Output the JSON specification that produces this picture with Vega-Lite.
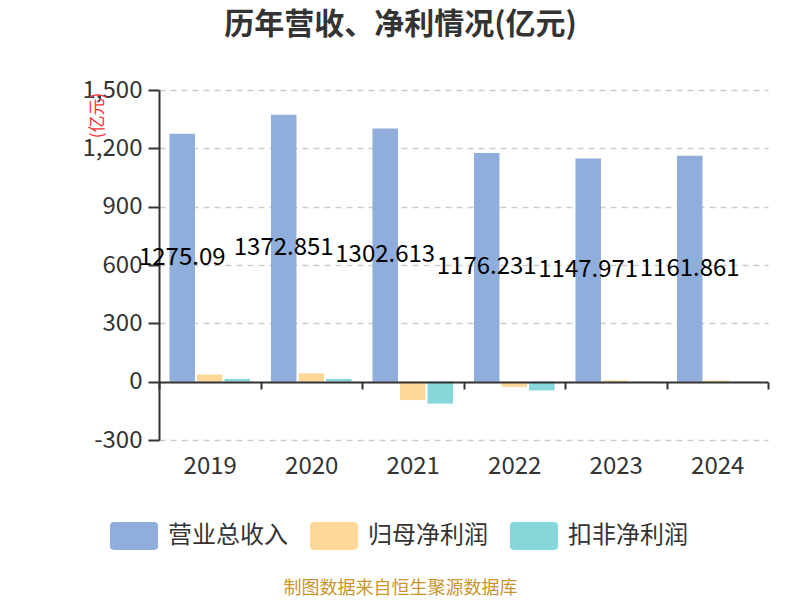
{
  "$schema": "https://vega.github.io/schema/vega-lite/v6.json",
  "width": 609,
  "height": 350,
  "autosize": "none",
  "padding": {"left": 159, "top": 90, "right": 32, "bottom": 160},
  "background": "white",
  "title": {
    "text": "历年营收、净利情况(亿元)",
    "fontSize": 30,
    "fontWeight": "bold",
    "color": "#333333",
    "anchor": "middle",
    "dx": -63,
    "offset": 38,
    "font": "Noto Sans CJK SC"
  },
  "config": {
    "view": {"stroke": null},
    "font": "Noto Sans CJK SC"
  },
  "data": {
    "values": [
      {"year": "2019", "series": "营业总收入", "value": 1275.09},
      {"year": "2019", "series": "归母净利润", "value": 37},
      {"year": "2019", "series": "扣非净利润", "value": 14},
      {"year": "2020", "series": "营业总收入", "value": 1372.851},
      {"year": "2020", "series": "归母净利润", "value": 43},
      {"year": "2020", "series": "扣非净利润", "value": 14},
      {"year": "2021", "series": "营业总收入", "value": 1302.613},
      {"year": "2021", "series": "归母净利润", "value": -95},
      {"year": "2021", "series": "扣非净利润", "value": -113},
      {"year": "2022", "series": "营业总收入", "value": 1176.231},
      {"year": "2022", "series": "归母净利润", "value": -28},
      {"year": "2022", "series": "扣非净利润", "value": -45},
      {"year": "2023", "series": "营业总收入", "value": 1147.971},
      {"year": "2023", "series": "归母净利润", "value": 7},
      {"year": "2023", "series": "扣非净利润", "value": -2},
      {"year": "2024", "series": "营业总收入", "value": 1161.861},
      {"year": "2024", "series": "归母净利润", "value": 6},
      {"year": "2024", "series": "扣非净利润", "value": -4}
    ]
  },
  "layer": [
    {
      "mark": {"type": "bar"},
      "encoding": {
        "x": {
          "field": "year",
          "type": "nominal",
          "sort": null,
          "scale": {"paddingInner": 0, "paddingOuter": 0},
          "axis": {
            "title": "制图数据来自恒生聚源数据库",
            "titleColor": "#c8962d",
            "titleFontSize": 18,
            "titleFontWeight": "normal",
            "titleX": 241,
            "titleY": 206,
            "titleBaseline": "middle",
            "offset": -58,
            "labelAngle": 0,
            "labelFontSize": 24,
            "labelColor": "#333333",
            "labelPadding": 65,
            "tickBand": "extent",
            "tickSize": 7,
            "tickColor": "#333333",
            "tickWidth": 2,
            "domainColor": "#333333",
            "domainWidth": 2,
            "zindex": 1
          }
        },
        "xOffset": {
          "field": "series",
          "type": "nominal",
          "sort": ["营业总收入", "归母净利润", "扣非净利润"],
          "scale": {"domain": ["营业总收入", "归母净利润", "扣非净利润"], "paddingInner": 0.073, "paddingOuter": 0.38}
        },
        "y": {
          "field": "value",
          "type": "quantitative",
          "scale": {"domain": [-300, 1500], "nice": false, "zero": false},
          "axis": {
            "title": "(亿元)",
            "titleColor": "#ff3333",
            "titleFontSize": 17,
            "titleFontWeight": "normal",
            "titleX": -62,
            "titleY": 25,
            "titleAlign": "center",
            "titleBaseline": "middle",
            "values": [-300, 0, 300, 600, 900, 1200, 1500],
            "format": ",d",
            "labelExpr": "replace(datum.label, '−', '-')",
            "labelFontSize": 24,
            "labelColor": "#333333",
            "labelPadding": 6,
            "tickSize": 11,
            "tickColor": "#333333",
            "tickWidth": 2,
            "domainColor": "#333333",
            "domainWidth": 2,
            "gridColor": "#cccccc",
            "gridDash": [6, 5],
            "gridWidth": 1.5
          }
        },
        "color": {
          "field": "series",
          "type": "nominal",
          "sort": ["营业总收入", "归母净利润", "扣非净利润"],
          "scale": {
            "domain": ["营业总收入", "归母净利润", "扣非净利润"],
            "range": ["#8faedb", "#fed898", "#87d6da"]
          },
          "legend": {
            "title": null,
            "orient": "none",
            "direction": "horizontal",
            "legendX": -49,
            "legendY": 422,
            "symbolType": "M-0.83,-0.58H0.83Q1,-0.58 1,-0.42V0.42Q1,0.58 0.83,0.58H-0.83Q-1,0.58 -1,0.42V-0.42Q-1,-0.58 -0.83,-0.58Z",
            "symbolSize": 2304,
            "symbolStrokeWidth": 0,
            "symbolOpacity": 1,
            "labelFontSize": 24,
            "labelColor": "#333333",
            "labelOffset": 10,
            "columnPadding": 22
          }
        }
      }
    },
    {
      "transform": [{"filter": "datum.series === '营业总收入'"}],
      "mark": {"type": "text", "fontSize": 24, "color": "#000000", "baseline": "middle", "align": "center"},
      "encoding": {
        "x": {"field": "year", "type": "nominal", "sort": null},
        "xOffset": {
          "field": "series",
          "type": "nominal",
          "scale": {"domain": ["营业总收入", "归母净利润", "扣非净利润"]}
        },
        "y": {
          "field": "value",
          "type": "quantitative",
          "scale": {"domain": [-600, 3000], "nice": false, "zero": false},
          "axis": null
        },
        "text": {"field": "value", "type": "nominal"}
      }
    }
  ],
  "resolve": {"scale": {"y": "independent"}}
}
